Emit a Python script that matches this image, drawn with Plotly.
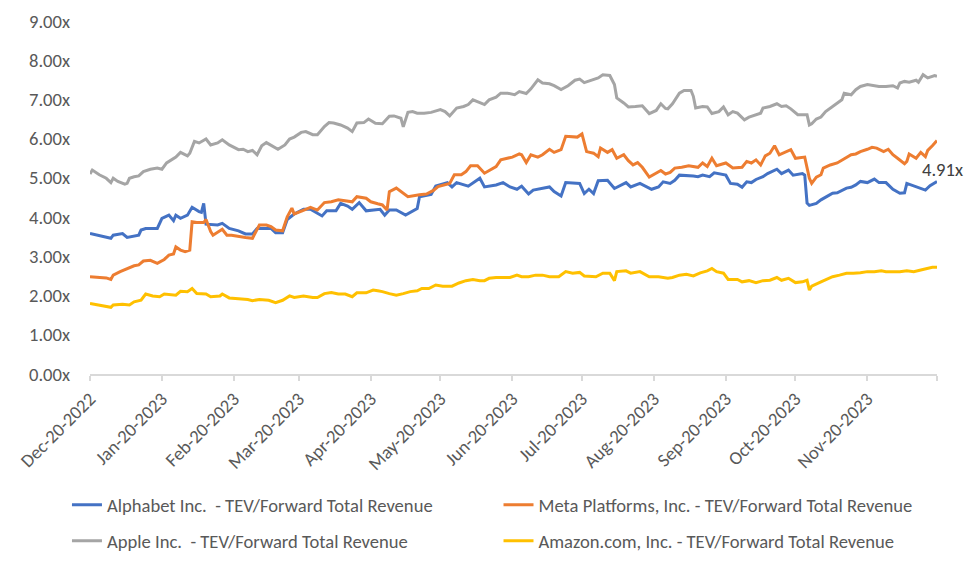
import plotly.graph_objects as go

# ---------------- data ----------------
alphabet_dates = ["2022-12-20","2022-12-23","2022-12-29","2022-12-30","2023-01-03","2023-01-05","2023-01-10","2023-01-11","2023-01-13","2023-01-18",
"2023-01-20","2023-01-23","2023-01-25","2023-01-26","2023-01-28","2023-01-31","2023-02-02","2023-02-05","2023-02-06","2023-02-07",
"2023-02-08","2023-02-13","2023-02-15","2023-02-18","2023-02-22","2023-02-25","2023-02-28","2023-03-02","2023-03-08","2023-03-10",
"2023-03-13","2023-03-15","2023-03-18","2023-03-22","2023-03-25","2023-03-30","2023-04-01","2023-04-05","2023-04-07","2023-04-10",
"2023-04-12","2023-04-15","2023-04-18","2023-04-24","2023-04-26","2023-04-28","2023-05-01","2023-05-05","2023-05-10","2023-05-11",
"2023-05-16","2023-05-18","2023-05-23","2023-05-25","2023-05-27","2023-06-01","2023-06-04","2023-06-06","2023-06-08","2023-06-13",
"2023-06-16","2023-06-19","2023-06-22","2023-06-24","2023-06-27","2023-06-29","2023-07-06","2023-07-08","2023-07-11","2023-07-13",
"2023-07-19","2023-07-21","2023-07-23","2023-07-25","2023-07-27","2023-07-31","2023-08-03","2023-08-08","2023-08-10","2023-08-14",
"2023-08-19","2023-08-22","2023-08-24","2023-08-27","2023-08-29","2023-08-31","2023-09-06","2023-09-08","2023-09-10","2023-09-13",
"2023-09-15","2023-09-20","2023-09-22","2023-09-25","2023-09-27","2023-09-29","2023-10-01","2023-10-03","2023-10-06","2023-10-08",
"2023-10-12","2023-10-14","2023-10-17","2023-10-19","2023-10-23","2023-10-24","2023-10-25","2023-10-26","2023-10-29","2023-10-31",
"2023-11-03","2023-11-05","2023-11-07","2023-11-09","2023-11-11","2023-11-13","2023-11-15","2023-11-17","2023-11-20","2023-11-23",
"2023-11-25","2023-11-28","2023-12-01","2023-12-04","2023-12-06","2023-12-07","2023-12-10","2023-12-12","2023-12-15","2023-12-17",
"2023-12-20"]
alphabet_values = [3.58,3.54,3.46,3.54,3.58,3.48,3.54,3.67,3.71,3.71,
3.97,4.05,3.91,4.05,3.97,4.05,4.25,4.14,4.12,4.35,
3.82,3.80,3.84,3.71,3.65,3.57,3.57,3.71,3.71,3.60,
3.60,3.94,4.08,4.20,4.20,4.03,4.16,4.16,4.35,4.28,
4.20,4.37,4.16,4.20,4.05,4.18,4.18,4.05,4.22,4.52,
4.58,4.79,4.88,4.77,4.88,4.79,4.90,4.99,4.77,4.82,
4.88,4.77,4.71,4.79,4.59,4.69,4.77,4.65,4.54,4.88,
4.86,4.60,4.71,4.60,4.93,4.94,4.73,4.88,4.77,4.86,
4.71,4.77,4.90,4.86,4.94,5.07,5.05,5.03,5.07,5.03,
5.13,5.07,4.86,4.84,4.76,4.90,4.88,4.96,5.03,5.11,
5.22,5.11,5.20,5.07,5.11,5.07,4.36,4.30,4.35,4.44,
4.54,4.61,4.62,4.69,4.74,4.76,4.82,4.91,4.88,4.97,
4.88,4.88,4.71,4.61,4.62,4.86,4.80,4.74,4.69,4.80,
4.91]

meta_dates = ["2022-12-20","2022-12-27","2022-12-29","2022-12-30","2023-01-02","2023-01-05","2023-01-08","2023-01-10","2023-01-12","2023-01-15",
"2023-01-18","2023-01-21","2023-01-23","2023-01-25","2023-01-26","2023-01-28","2023-01-30","2023-02-01","2023-02-02","2023-02-04",
"2023-02-07","2023-02-08","2023-02-10","2023-02-11","2023-02-15","2023-02-17","2023-02-19","2023-02-25","2023-02-28","2023-03-03",
"2023-03-06","2023-03-08","2023-03-10","2023-03-13","2023-03-15","2023-03-17","2023-03-18","2023-03-23","2023-03-25","2023-03-28",
"2023-03-31","2023-04-03","2023-04-06","2023-04-12","2023-04-14","2023-04-18","2023-04-20","2023-04-23","2023-04-25","2023-04-27",
"2023-04-28","2023-05-01","2023-05-03","2023-05-06","2023-05-11","2023-05-14","2023-05-17","2023-05-19","2023-05-24","2023-05-26",
"2023-05-29","2023-05-31","2023-06-02","2023-06-05","2023-06-08","2023-06-10","2023-06-13","2023-06-15","2023-06-20","2023-06-23",
"2023-06-24","2023-06-26","2023-06-28","2023-07-01","2023-07-03","2023-07-06","2023-07-08","2023-07-11","2023-07-13","2023-07-18",
"2023-07-20","2023-07-22","2023-07-25","2023-07-27","2023-07-28","2023-07-31","2023-08-02","2023-08-04","2023-08-07","2023-08-09",
"2023-08-11","2023-08-13","2023-08-15","2023-08-18","2023-08-21","2023-08-23","2023-08-25","2023-08-27","2023-08-29","2023-09-01",
"2023-09-04","2023-09-08","2023-09-10","2023-09-12","2023-09-14","2023-09-16","2023-09-20","2023-09-23","2023-09-27","2023-09-29",
"2023-10-01","2023-10-03","2023-10-05","2023-10-07","2023-10-09","2023-10-11","2023-10-13","2023-10-16","2023-10-18","2023-10-20",
"2023-10-24","2023-10-26","2023-10-27","2023-10-29","2023-10-31","2023-11-01","2023-11-04","2023-11-07","2023-11-10","2023-11-13",
"2023-11-15","2023-11-17","2023-11-20","2023-11-22","2023-11-24","2023-11-27","2023-11-29","2023-12-01","2023-12-03","2023-12-06",
"2023-12-07","2023-12-08","2023-12-11","2023-12-13","2023-12-15","2023-12-16","2023-12-18","2023-12-20"]
meta_values = [2.48,2.45,2.41,2.52,2.61,2.69,2.76,2.78,2.88,2.90,
2.82,2.92,3.03,3.06,3.24,3.16,3.12,3.16,3.88,3.86,
3.86,3.94,3.63,3.54,3.69,3.54,3.54,3.48,3.46,3.80,
3.80,3.76,3.67,3.65,4.01,4.23,4.08,4.20,4.25,4.18,
4.37,4.39,4.44,4.39,4.52,4.48,4.39,4.34,4.31,4.18,
4.65,4.74,4.65,4.52,4.57,4.59,4.68,4.78,4.86,5.08,
5.08,5.16,5.31,5.31,5.12,5.19,5.29,5.46,5.53,5.61,
5.59,5.39,5.59,5.53,5.59,5.73,5.65,5.72,6.06,6.04,
6.12,5.67,5.63,5.54,5.76,5.65,5.72,5.50,5.59,5.44,
5.33,5.39,5.27,5.02,5.12,5.19,5.10,5.14,5.25,5.27,
5.31,5.27,5.38,5.29,5.50,5.31,5.38,5.25,5.27,5.42,
5.38,5.46,5.33,5.56,5.63,5.82,5.59,5.67,5.72,5.50,
5.53,4.99,4.86,5.02,5.08,5.25,5.33,5.38,5.48,5.59,
5.61,5.67,5.73,5.78,5.76,5.67,5.73,5.59,5.50,5.36,
5.42,5.61,5.50,5.65,5.54,5.70,5.82,5.95]

apple_dates = ["2022-12-20","2022-12-21","2022-12-24","2022-12-27","2022-12-29","2022-12-30","2023-01-01","2023-01-04","2023-01-05","2023-01-06",
"2023-01-08","2023-01-10","2023-01-12","2023-01-15","2023-01-18","2023-01-20","2023-01-22","2023-01-25","2023-01-26","2023-01-28",
"2023-01-31","2023-02-01","2023-02-03","2023-02-05","2023-02-08","2023-02-10","2023-02-13","2023-02-15","2023-02-18","2023-02-22",
"2023-02-24","2023-02-26","2023-02-28","2023-03-02","2023-03-04","2023-03-06","2023-03-08","2023-03-11","2023-03-14","2023-03-16",
"2023-03-18","2023-03-21","2023-03-23","2023-03-26","2023-03-28","2023-03-31","2023-04-02","2023-04-04","2023-04-07","2023-04-10",
"2023-04-12","2023-04-14","2023-04-17","2023-04-19","2023-04-22","2023-04-25","2023-04-28","2023-04-30","2023-05-03","2023-05-04",
"2023-05-06","2023-05-08","2023-05-10","2023-05-13","2023-05-16","2023-05-20","2023-05-22","2023-05-24","2023-05-27","2023-05-30",
"2023-06-01","2023-06-03","2023-06-06","2023-06-08","2023-06-10","2023-06-13","2023-06-15","2023-06-18","2023-06-21","2023-06-23",
"2023-06-26","2023-06-28","2023-07-01","2023-07-03","2023-07-06","2023-07-08","2023-07-11","2023-07-14","2023-07-17","2023-07-19",
"2023-07-21","2023-07-24","2023-07-27","2023-07-29","2023-08-01","2023-08-03","2023-08-04","2023-08-07","2023-08-09","2023-08-12",
"2023-08-15","2023-08-18","2023-08-21","2023-08-23","2023-08-25","2023-08-26","2023-08-28","2023-08-31","2023-09-02","2023-09-05",
"2023-09-06","2023-09-07","2023-09-10","2023-09-12","2023-09-14","2023-09-17","2023-09-19","2023-09-21","2023-09-23","2023-09-25",
"2023-09-28","2023-09-30","2023-10-03","2023-10-05","2023-10-06","2023-10-09","2023-10-12","2023-10-14","2023-10-16","2023-10-18",
"2023-10-21","2023-10-25","2023-10-26","2023-10-27","2023-10-29","2023-10-31","2023-11-02","2023-11-04","2023-11-07","2023-11-09",
"2023-11-10","2023-11-13","2023-11-15","2023-11-17","2023-11-20","2023-11-23","2023-11-25","2023-11-28","2023-12-01","2023-12-03",
"2023-12-04","2023-12-06","2023-12-08","2023-12-11","2023-12-12","2023-12-14","2023-12-16","2023-12-19","2023-12-20"]
apple_values = [5.10,5.20,5.08,4.99,4.88,4.99,4.91,4.84,4.86,4.99,
5.03,5.05,5.16,5.22,5.25,5.22,5.38,5.50,5.53,5.65,
5.56,5.63,5.93,5.89,5.99,5.84,5.89,5.97,5.84,5.72,
5.73,5.67,5.70,5.59,5.82,5.90,5.84,5.73,5.84,5.99,
6.04,6.16,6.18,6.10,6.10,6.31,6.41,6.40,6.35,6.27,
6.18,6.40,6.41,6.50,6.39,6.38,6.57,6.58,6.52,6.30,
6.67,6.69,6.65,6.65,6.67,6.74,6.69,6.58,6.78,6.82,
6.87,6.99,6.92,6.87,6.99,7.06,7.16,7.16,7.12,7.20,
7.15,7.27,7.50,7.42,7.40,7.35,7.25,7.35,7.49,7.52,
7.43,7.49,7.55,7.63,7.61,7.38,7.04,6.91,6.81,6.82,
6.84,6.64,6.72,6.89,6.77,6.76,6.89,7.16,7.23,7.23,
7.08,6.78,6.82,6.81,6.64,6.69,6.81,6.61,6.69,6.65,
6.48,6.55,6.61,6.65,6.78,6.82,6.89,6.82,6.84,6.76,
6.61,6.61,6.35,6.38,6.50,6.55,6.69,6.78,6.91,6.99,
7.16,7.12,7.25,7.33,7.38,7.35,7.33,7.33,7.35,7.29,
7.42,7.46,7.44,7.49,7.44,7.63,7.55,7.61,7.59]

amazon_dates = ["2022-12-20","2022-12-24","2022-12-29","2022-12-30","2023-01-03","2023-01-06","2023-01-08","2023-01-11","2023-01-13","2023-01-16",
"2023-01-19","2023-01-21","2023-01-26","2023-01-28","2023-01-31","2023-02-02","2023-02-04","2023-02-08","2023-02-10","2023-02-14",
"2023-02-15","2023-02-18","2023-02-20","2023-02-23","2023-02-26","2023-02-28","2023-03-03","2023-03-07","2023-03-10","2023-03-13",
"2023-03-16","2023-03-18","2023-03-22","2023-03-26","2023-03-28","2023-03-31","2023-04-03","2023-04-06","2023-04-09","2023-04-12",
"2023-04-14","2023-04-18","2023-04-21","2023-04-23","2023-04-25","2023-04-28","2023-05-01","2023-05-04","2023-05-07","2023-05-10",
"2023-05-12","2023-05-15","2023-05-18","2023-05-21","2023-05-25","2023-05-28","2023-05-31","2023-06-03","2023-06-06","2023-06-08",
"2023-06-10","2023-06-13","2023-06-16","2023-06-19","2023-06-22","2023-06-24","2023-06-27","2023-06-30","2023-07-03","2023-07-06",
"2023-07-10","2023-07-13","2023-07-16","2023-07-19","2023-07-21","2023-07-26","2023-07-29","2023-08-01","2023-08-03","2023-08-04",
"2023-08-08","2023-08-10","2023-08-14","2023-08-18","2023-08-22","2023-08-26","2023-08-28","2023-08-31","2023-09-03","2023-09-06",
"2023-09-09","2023-09-12","2023-09-14","2023-09-16","2023-09-19","2023-09-21","2023-09-25","2023-09-27","2023-09-30","2023-10-03",
"2023-10-06","2023-10-09","2023-10-12","2023-10-14","2023-10-17","2023-10-20","2023-10-23","2023-10-25","2023-10-26","2023-10-27",
"2023-10-31","2023-11-03","2023-11-05","2023-11-08","2023-11-11","2023-11-14","2023-11-17","2023-11-20","2023-11-23","2023-11-26",
"2023-11-28","2023-12-01","2023-12-04","2023-12-07","2023-12-10","2023-12-13","2023-12-16","2023-12-18","2023-12-20"]
amazon_values = [1.80,1.76,1.70,1.76,1.78,1.76,1.84,1.88,2.04,1.99,
1.97,2.04,2.01,2.11,2.10,2.18,2.05,2.04,1.97,1.99,
2.04,1.94,1.93,1.90,1.90,1.87,1.90,1.88,1.82,1.88,
1.99,1.95,1.99,1.95,1.95,2.05,2.08,2.04,2.04,1.97,
2.07,2.07,2.14,2.12,2.10,2.05,2.01,2.05,2.10,2.12,
2.18,2.18,2.27,2.24,2.24,2.32,2.38,2.41,2.38,2.38,
2.44,2.46,2.46,2.46,2.52,2.48,2.48,2.52,2.52,2.48,
2.48,2.61,2.57,2.59,2.50,2.48,2.57,2.57,2.38,2.61,
2.63,2.57,2.61,2.48,2.48,2.44,2.46,2.52,2.54,2.50,
2.58,2.63,2.69,2.61,2.57,2.41,2.41,2.35,2.38,2.33,
2.38,2.39,2.46,2.39,2.44,2.33,2.35,2.39,2.14,2.24,
2.35,2.44,2.48,2.52,2.57,2.57,2.58,2.61,2.61,2.63,
2.61,2.61,2.61,2.63,2.61,2.65,2.69,2.72,2.72]

series_names = ["Alphabet Inc.  - TEV/Forward Total Revenue",
                "Meta Platforms, Inc. - TEV/Forward Total Revenue",
                "Apple Inc.  - TEV/Forward Total Revenue",
                "Amazon.com, Inc. - TEV/Forward Total Revenue"]
series_colors = ["#4472C4", "#ED7D31", "#A5A5A5", "#FFC000"]

tick_dates = ["2022-12-20","2023-01-20","2023-02-20","2023-03-20","2023-04-20","2023-05-20",
              "2023-06-20","2023-07-20","2023-08-20","2023-09-20","2023-10-20","2023-11-20","2023-12-20"]
tick_labels = ["Dec-20-2022","Jan-20-2023","Feb-20-2023","Mar-20-2023","Apr-20-2023","May-20-2023",
               "Jun-20-2023","Jul-20-2023","Aug-20-2023","Sep-20-2023","Oct-20-2023","Nov-20-2023",""]
y_ticks = [0, 1, 2, 3, 4, 5, 6, 7, 8, 9]
y_tick_labels = ["0.00x","1.00x","2.00x","3.00x","4.00x","5.00x","6.00x","7.00x","8.00x","9.00x"]
end_label = "4.91x"

FONT = "Calibri, Carlito, Lato, Liberation Sans, Arial, sans-serif"
TXT = "#595959"
FS = 18.6

fig = go.Figure()
all_x = [alphabet_dates, meta_dates, apple_dates, amazon_dates]
all_y = [alphabet_values, meta_values, apple_values, amazon_values]
legend_ids = ["legend", "legend2", "legend3", "legend4"]
for xs, ys, nm, col, lg in zip(all_x, all_y, series_names, series_colors, legend_ids):
    fig.add_trace(go.Scatter(x=xs, y=ys, mode="lines", name=nm, legend=lg,
                             line=dict(color=col, width=3)))

fig.add_annotation(x=alphabet_dates[-1], y=alphabet_values[-1], text=end_label,
                   showarrow=False, xanchor="center", yanchor="bottom", xshift=5, yshift=-2,
                   font=dict(family=FONT, size=FS, color="#404040"))

def leg(x, y):
    return dict(orientation="h", x=x, y=y, xanchor="left", yanchor="middle",
                font=dict(family=FONT, size=FS, color=TXT),
                bgcolor="rgba(0,0,0,0)", borderwidth=0)

fig.update_layout(
    width=967, height=560,
    margin=dict(l=82, r=38, t=13, b=194, autoexpand=False),
    paper_bgcolor="white", plot_bgcolor="white",
    font=dict(family=FONT, color=TXT),
    legend=leg(-0.0272, -0.3715),
    legend2=leg(0.4823, -0.3715),
    legend3=leg(-0.0272, -0.4736),
    legend4=leg(0.4823, -0.4736),
    xaxis=dict(type="date", range=["2022-12-20", "2023-12-20"],
               tickmode="array", tickvals=tick_dates, ticktext=tick_labels,
               tickangle=-45, tickfont=dict(family=FONT, size=FS, color=TXT),
               showgrid=False, showline=True, linecolor="#D9D9D9", linewidth=1.5,
               ticks="outside", ticklen=5, tickcolor="#D9D9D9", tickwidth=1.5,
               zeroline=False),
    yaxis=dict(range=[0, 9], tickmode="array", tickvals=y_ticks, ticktext=y_tick_labels,
               tickfont=dict(family=FONT, size=FS, color=TXT),
               showgrid=False, showline=False, zeroline=False,
               ticks="", ticklabelstandoff=19),
    showlegend=True,
)

fig.write_html("out.html")
